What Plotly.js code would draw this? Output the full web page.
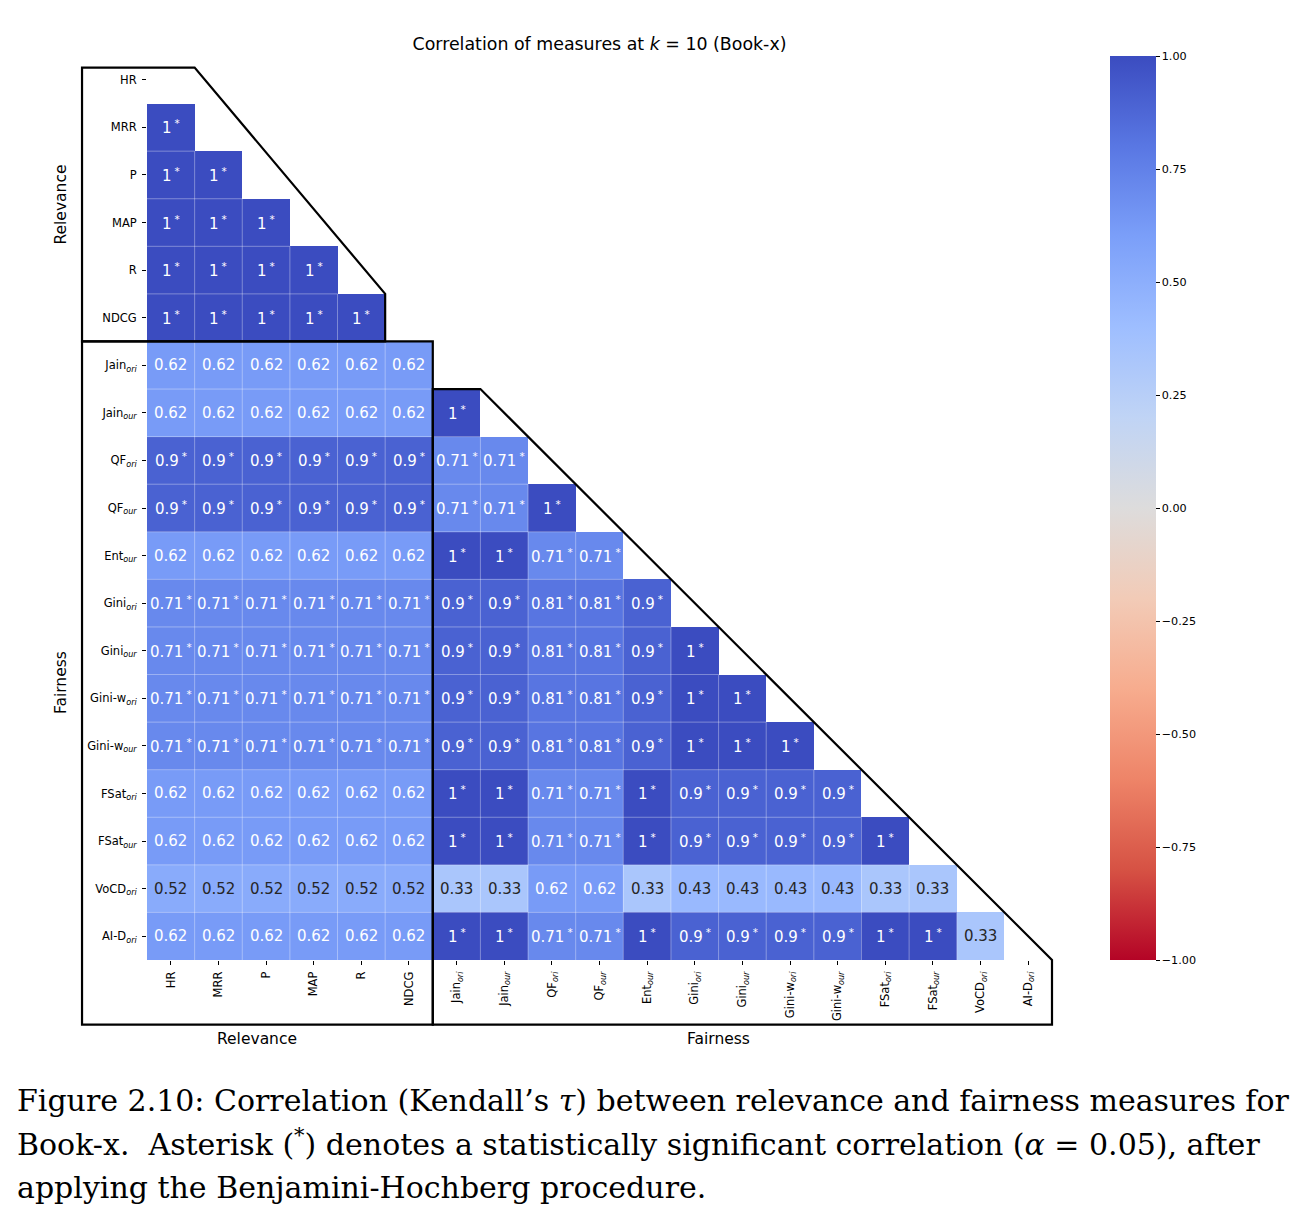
<!DOCTYPE html>
<html>
<head>
<meta charset="utf-8">
<script src="https://cdn.plot.ly/plotly-3.0.1.min.js"></script>
<style>html,body{margin:0;padding:0;background:#fff;}#chart{width:1316px;height:1221px;}</style>
</head>
<body>
<div id="chart"></div>
<script>
// ---------------- DATA ----------------
const measures = ['HR','MRR','P','MAP','R','NDCG','Jain_ori','Jain_our','QF_ori','QF_our','Ent_our',
  'Gini_ori','Gini_our','Gini-w_ori','Gini-w_our','FSat_ori','FSat_our','VoCD_ori','AI-D_ori'];

// Kendall's tau, lower triangle (row i holds columns 0..i-1)
const tauHR       = [];
const tauMRR      = [1];
const tauP        = [1, 1];
const tauMAP      = [1, 1, 1];
const tauR        = [1, 1, 1, 1];
const tauNDCG     = [1, 1, 1, 1, 1];
const tauJainOri  = [0.62, 0.62, 0.62, 0.62, 0.62, 0.62];
const tauJainOur  = [0.62, 0.62, 0.62, 0.62, 0.62, 0.62, 1];
const tauQFOri    = [0.9, 0.9, 0.9, 0.9, 0.9, 0.9, 0.71, 0.71];
const tauQFOur    = [0.9, 0.9, 0.9, 0.9, 0.9, 0.9, 0.71, 0.71, 1];
const tauEntOur   = [0.62, 0.62, 0.62, 0.62, 0.62, 0.62, 1, 1, 0.71, 0.71];
const tauGiniOri  = [0.71, 0.71, 0.71, 0.71, 0.71, 0.71, 0.9, 0.9, 0.81, 0.81, 0.9];
const tauGiniOur  = [0.71, 0.71, 0.71, 0.71, 0.71, 0.71, 0.9, 0.9, 0.81, 0.81, 0.9, 1];
const tauGiniWOri = [0.71, 0.71, 0.71, 0.71, 0.71, 0.71, 0.9, 0.9, 0.81, 0.81, 0.9, 1, 1];
const tauGiniWOur = [0.71, 0.71, 0.71, 0.71, 0.71, 0.71, 0.9, 0.9, 0.81, 0.81, 0.9, 1, 1, 1];
const tauFSatOri  = [0.62, 0.62, 0.62, 0.62, 0.62, 0.62, 1, 1, 0.71, 0.71, 1, 0.9, 0.9, 0.9, 0.9];
const tauFSatOur  = [0.62, 0.62, 0.62, 0.62, 0.62, 0.62, 1, 1, 0.71, 0.71, 1, 0.9, 0.9, 0.9, 0.9, 1];
const tauVoCDOri  = [0.52, 0.52, 0.52, 0.52, 0.52, 0.52, 0.33, 0.33, 0.62, 0.62, 0.33, 0.43, 0.43, 0.43, 0.43, 0.33, 0.33];
const tauAIDOri   = [0.62, 0.62, 0.62, 0.62, 0.62, 0.62, 1, 1, 0.71, 0.71, 1, 0.9, 0.9, 0.9, 0.9, 1, 1, 0.33];

// significance after Benjamini-Hochberg (1 = significant, shown with asterisk)
const sigHR       = [];
const sigMRR      = [1];
const sigP        = [1, 1];
const sigMAP      = [1, 1, 1];
const sigR        = [1, 1, 1, 1];
const sigNDCG     = [1, 1, 1, 1, 1];
const sigJainOri  = [0, 0, 0, 0, 0, 0];
const sigJainOur  = [0, 0, 0, 0, 0, 0, 1];
const sigQFOri    = [1, 1, 1, 1, 1, 1, 1, 1];
const sigQFOur    = [1, 1, 1, 1, 1, 1, 1, 1, 1];
const sigEntOur   = [0, 0, 0, 0, 0, 0, 1, 1, 1, 1];
const sigGiniOri  = [1, 1, 1, 1, 1, 1, 1, 1, 1, 1, 1];
const sigGiniOur  = [1, 1, 1, 1, 1, 1, 1, 1, 1, 1, 1, 1];
const sigGiniWOri = [1, 1, 1, 1, 1, 1, 1, 1, 1, 1, 1, 1, 1];
const sigGiniWOur = [1, 1, 1, 1, 1, 1, 1, 1, 1, 1, 1, 1, 1, 1];
const sigFSatOri  = [0, 0, 0, 0, 0, 0, 1, 1, 1, 1, 1, 1, 1, 1, 1];
const sigFSatOur  = [0, 0, 0, 0, 0, 0, 1, 1, 1, 1, 1, 1, 1, 1, 1, 1];
const sigVoCDOri  = [0, 0, 0, 0, 0, 0, 0, 0, 0, 0, 0, 0, 0, 0, 0, 0, 0];
const sigAIDOri   = [0, 0, 0, 0, 0, 0, 1, 1, 1, 1, 1, 1, 1, 1, 1, 1, 1, 0];

const colorbarTicks = [-1, -0.75, -0.5, -0.25, 0, 0.25, 0.5, 0.75, 1];

// ---------------- BUILD ----------------
const tauRows = [tauHR, tauMRR, tauP, tauMAP, tauR, tauNDCG, tauJainOri, tauJainOur, tauQFOri, tauQFOur,
  tauEntOur, tauGiniOri, tauGiniOur, tauGiniWOri, tauGiniWOur, tauFSatOri, tauFSatOur, tauVoCDOri, tauAIDOri];
const sigRows = [sigHR, sigMRR, sigP, sigMAP, sigR, sigNDCG, sigJainOri, sigJainOur, sigQFOri, sigQFOur,
  sigEntOur, sigGiniOri, sigGiniOur, sigGiniWOri, sigGiniWOur, sigFSatOri, sigFSatOur, sigVoCDOri, sigAIDOri];

const N = measures.length;
const idx = measures.map((_, i) => i);
const tickText = measures.map(m => {
  const k = m.indexOf('_');
  return k < 0 ? m : m.slice(0, k) + '<sub><i>' + m.slice(k + 1) + '</i></sub>';
});

const z = [];
for (let i = 0; i < N; i++) {
  const row = [];
  for (let j = 0; j < N; j++) row.push(j < tauRows[i].length ? tauRows[i][j] : null);
  z.push(row);
}

// coolwarm reversed (1 -> blue, -1 -> red)
const coolwarm = ['#3b4cc0','#5977e3','#7b9ff9','#9ebeff','#c0d4f5','#dddcdc','#f2cbb7','#f7ac8e','#ee8468','#d65244','#b40426'];
const colorscale = coolwarm.slice().reverse().map((c, i) => [i / (coolwarm.length - 1), c]);

const FONT = 'DejaVu Sans, Verdana, sans-serif';
const annotations = [];
for (let i = 0; i < N; i++) {
  for (let j = 0; j < tauRows[i].length; j++) {
    const v = tauRows[i][j];
    annotations.push({
      x: j, y: i, xref: 'x', yref: 'y', showarrow: false, xanchor: 'center', yanchor: 'middle',
      text: String(v) + (sigRows[i][j] ? '\u2009<sup>*</sup>' : ''),
      font: {family: FONT, size: 15, color: v >= 0.6 ? '#ffffff' : '#262626'}
    });
  }
}

// figure geometry (pixels)
const W = 1316, H = 1221;
const ML = 147, MR = 264, MT = 56, MB = 261;
const PW = W - ML - MR, PH = H - MT - MB;
const pxX = px => (px - ML) / PW;
const pxY = py => 1 - (py - MT) / PH;
// cell coordinate -> paper
const dX = x => (x + 0.5) / N;
const dY = y => 1 - (y + 0.5) / N;

// thin cell separators inside the lower triangle
const shapes = [];
const sepLine = {color: 'rgba(255,255,255,0.35)', width: 1};
for (let i = 2; i < N; i++) {
  shapes.push({type: 'line', xref: 'x', yref: 'y', x0: -0.5, x1: i - 1.5, y0: i - 0.5, y1: i - 0.5, line: sepLine, layer: 'above'});
}
for (let j = 0; j < N - 2; j++) {
  shapes.push({type: 'line', xref: 'x', yref: 'y', x0: j + 0.5, x1: j + 0.5, y0: j + 1.5, y1: N - 0.5, line: sepLine, layer: 'above'});
}

// outline frames (layout coordinates in cell units)
const L = -1.864, T = -0.256, B = 19.86;
function path(pts) {
  return 'M' + pts.map(p => dX(p[0]).toFixed(5) + ',' + dY(p[1]).toFixed(5)).join(' L') + ' Z';
}
const frameLine = {color: '#000000', width: 2.2};
shapes.push(
  {type: 'path', xref: 'paper', yref: 'paper', line: frameLine,
   path: path([[L, T], [0.5, T], [4.5, 4.5], [4.5, 5.5], [L, 5.5]])},
  {type: 'path', xref: 'paper', yref: 'paper', line: frameLine,
   path: path([[L, 5.5], [5.5, 5.5], [5.5, B], [L, B]])},
  {type: 'path', xref: 'paper', yref: 'paper', line: frameLine,
   path: path([[5.5, 6.5], [6.5, 6.5], [18.5, 18.5], [18.5, B], [5.5, B]])}
);

// group labels
const groupFont = {family: FONT, size: 15.5, color: '#000'};
annotations.push(
  {xref: 'paper', yref: 'paper', x: pxX(61), y: dY((T + 5.5) / 2), text: 'Relevance', textangle: -90,
   xanchor: 'center', yanchor: 'middle', showarrow: false, font: groupFont},
  {xref: 'paper', yref: 'paper', x: pxX(61), y: dY((5.5 + B) / 2), text: 'Fairness', textangle: -90,
   xanchor: 'center', yanchor: 'middle', showarrow: false, font: groupFont},
  {xref: 'paper', yref: 'paper', x: dX((L + 5.5) / 2), y: pxY(1039), text: 'Relevance',
   xanchor: 'center', yanchor: 'middle', showarrow: false, font: groupFont},
  {xref: 'paper', yref: 'paper', x: pxX(718), y: pxY(1039), text: 'Fairness',
   xanchor: 'center', yanchor: 'middle', showarrow: false, font: groupFont}
);

// caption
const SERIF = 'DejaVu Serif, Liberation Serif, serif';
const captionLines = [
  'Figure 2.10: Correlation (Kendall\u2019s <i>\u03c4</i>) between relevance and fairness measures for',
  'Book-x.  Asterisk (<sup>*</sup>) denotes a statistically significant correlation (<i>\u03b1</i> = 0.05), after',
  'applying the Benjamini-Hochberg procedure.'
];
const captionY = [1100, 1142, 1187];
captionLines.forEach((t, k) => annotations.push({
  xref: 'paper', yref: 'paper', x: pxX(15), y: pxY(captionY[k]), xanchor: 'left', yanchor: 'middle',
  text: t, showarrow: false, font: {family: SERIF, size: 30, color: '#000'}
}));

const trace = {
  type: 'heatmap', x: idx, y: idx, z: z,
  zmin: -1, zmax: 1, colorscale: colorscale,
  hoverongaps: false,
  colorbar: {
    x: pxX(1110), xanchor: 'left', xpad: 0, ypad: 0,
    y: 0.5, yanchor: 'middle', len: 1, lenmode: 'fraction',
    thickness: 46, outlinewidth: 0,
    tickvals: colorbarTicks, tickformat: '.2f', ticks: 'outside', ticklen: 4, tickwidth: 1,
    ticklabelstandoff: 3,
    tickcolor: '#000', tickfont: {family: FONT, size: 11.2, color: '#000'}
  }
};

const layout = {
  width: W, height: H,
  margin: {l: ML, r: MR, t: MT, b: MB},
  paper_bgcolor: '#ffffff', plot_bgcolor: '#ffffff',
  font: {family: FONT, color: '#000'},
  title: {text: 'Correlation of measures at <i>k</i> = 10 (Book-x)', x: 0.5, xref: 'paper', xanchor: 'center',
    y: 1, yref: 'paper', yanchor: 'bottom', pad: {b: 6}, font: {family: FONT, size: 17.4, color: '#000'}},
  xaxis: {range: [-0.5, N - 0.5], tickvals: idx, ticktext: tickText, tickangle: -90,
    ticks: 'outside', ticklen: 4, tickwidth: 1, tickcolor: '#000', ticklabelstandoff: 2,
    showgrid: false, zeroline: false, showline: false,
    tickfont: {family: FONT, size: 11.5, color: '#000'}},
  yaxis: {range: [N - 0.5, -0.5], tickvals: idx, ticktext: tickText,
    ticks: 'outside', ticklen: 4, tickwidth: 1, tickcolor: '#000', ticklabelstandoff: 3,
    showgrid: false, zeroline: false, showline: false,
    tickfont: {family: FONT, size: 11.5, color: '#000'}},
  shapes: shapes,
  annotations: annotations
};

Plotly.newPlot('chart', [trace], layout, {displayModeBar: false});
</script>
</body>
</html>
